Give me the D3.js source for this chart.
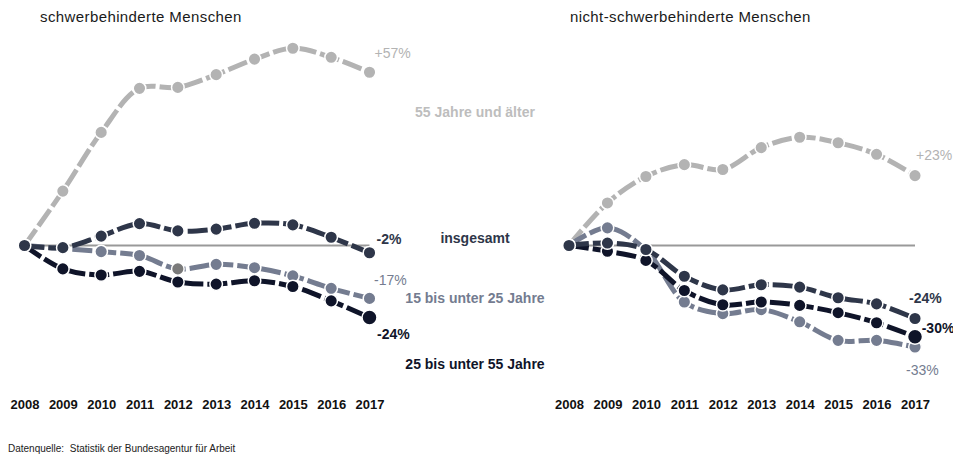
<!DOCTYPE html>
<html><head><meta charset="utf-8">
<script src="https://cdn.jsdelivr.net/npm/d3@7"></script>
<style>
html,body{margin:0;padding:0;background:#fff;}
svg{display:block;font-family:"Liberation Sans",Arial,sans-serif;}
</style></head>
<body><svg id="c" width="953" height="455"></svg>
<script>
// ---- data ----
const years = [2008, 2009, 2010, 2011, 2012, 2013, 2014, 2015, 2016, 2017];
const seriesNames = ["55 Jahre und älter", "15 bis unter 25 Jahre", "25 bis unter 55 Jahre", "insgesamt"];
const panelTitles = ["schwerbehinderte Menschen", "nicht-schwerbehinderte Menschen"];
// left panel: change vs. 2008 in %
const leftAlter55    = [0, 17.9, 37.2, 51.7, 52.0, 56.2, 61.3, 64.9, 61.9, 57.0];
const left15bis25    = [0, -1.0, -2.0, -3.3, -7.7, -6.2, -7.3, -10.0, -14.1, -17.4];
const left25bis55    = [0, -7.7, -9.7, -8.5, -12.0, -12.7, -11.6, -13.5, -18.2, -23.7];
const leftInsgesamt  = [0, -0.7, 3.1, 7.2, 4.8, 5.4, 7.3, 6.8, 2.7, -2.4];
// right panel
const rightAlter55   = [0, 14.0, 22.7, 26.6, 25.0, 32.2, 35.6, 33.8, 30.0, 23.0];
const right15bis25   = [0, 5.8, -1.5, -18.6, -22.4, -21.1, -25.1, -31.2, -31.2, -33.4];
const right25bis55   = [0, -1.9, -4.9, -14.8, -19.5, -18.6, -19.7, -22.1, -25.4, -30.0];
const rightInsgesamt = [0, 0.8, -1.3, -10.1, -14.6, -12.9, -13.7, -17.2, -19.2, -24.0];
const leftEndLabels  = ["+57%", "-17%", "-24%", "-2%"];
const rightEndLabels = ["+23%", "-33%", "-30%", "-24%"];
const sourceText = "Datenquelle:  Statistik der Bundesagentur für Arbeit";

// ---- styles ----
const colors = ["#b3b3b3", "#747c90", "#0f1429", "#2e3649"];
const svg = d3.select("#c");
const y = d3.scaleLinear().domain([-40, 70]).range([367.1, 32.7]);
const line = (x) => d3.line().x((d, i) => x(years[i])).y(d => y(d)).curve(d3.curveCatmullRom.alpha(0.5));

function panel(xRange, series, endLabels, title, titleX, labelOffsets, boldEnd) {
  const x = d3.scaleLinear().domain([2008, 2017]).range(xRange);
  const g = svg.append("g");
  g.append("text").attr("x", titleX).attr("y", 22).attr("font-size", 15)
    .attr("letter-spacing", 0.4).attr("fill", "#1a1a1a").text(title);
  // zero line
  g.append("line").attr("x1", x(2008)).attr("x2", x(2017)).attr("y1", y(0)).attr("y2", y(0))
    .attr("stroke", "#999").attr("stroke-width", 2);
  // axis labels
  const ax = d3.axisBottom(x).tickValues(years).tickFormat(d3.format("d")).tickSize(0);
  const axg = g.append("g").attr("transform", "translate(0,397)").call(ax);
  axg.select(".domain").remove();
  axg.selectAll("text").attr("font-size", 13).attr("font-weight", "bold")
    .attr("font-family", "'Liberation Sans',Arial,sans-serif").attr("fill", "#111");
  series.forEach((s, k) => {
    g.append("path").datum(s).attr("d", line(x)).attr("fill", "none")
      .attr("stroke", colors[k]).attr("stroke-width", 5).attr("stroke-dasharray", "20,4");
    g.selectAll(null).data(s).join("circle")
      .attr("cx", (d, i) => x(years[i])).attr("cy", d => y(d))
      .attr("r", (d, i) => (k === 2 && i === s.length - 1) ? 7.5 : 6.3)
      .attr("fill", (d, i) => (title === panelTitles[0] && k === 1 && i === 4) ? "#7a7a7a" : colors[k])
      .attr("stroke", "#fff").attr("stroke-width", 1.5);
    const last = s[s.length - 1];
    g.append("text").attr("x", x(2017) + labelOffsets[k][0]).attr("y", y(last) + labelOffsets[k][1])
      .attr("font-size", 14).attr("font-weight", boldEnd[k] ? "bold" : "normal")
      .attr("fill", colors[k]).text(endLabels[k]);
  });
  return x;
}

panel([24.5, 369.5], [leftAlter55, left15bis25, left25bis55, leftInsgesamt], leftEndLabels, panelTitles[0], 40,
  [[5, -14.5], [4.5, -13], [7.5, 21], [7, -8.6]], [false, false, true, true]);
panel([569, 915], [rightAlter55, right15bis25, right25bis55, rightInsgesamt], rightEndLabels, panelTitles[1], 570,
  [[1, -15.6], [-9, 28], [6.7, -3.4], [-6, -15]], [false, false, true, true]);

// series name legend (centered between panels)
const nameBaselines = [116.7, 303.3, 369.3, 243];
seriesNames.forEach((n, k) => {
  svg.append("text").attr("x", 475).attr("y", nameBaselines[k]).attr("text-anchor", "middle")
    .attr("font-size", 14).attr("font-weight", "bold")
    .attr("fill", k === 0 ? "#bdbdbd" : colors[k]).text(n);
});

svg.append("text").attr("x", 8).attr("y", 452).attr("font-size", 10).attr("fill", "#222")
  .style("white-space", "pre").text(sourceText);
</script></body></html>
